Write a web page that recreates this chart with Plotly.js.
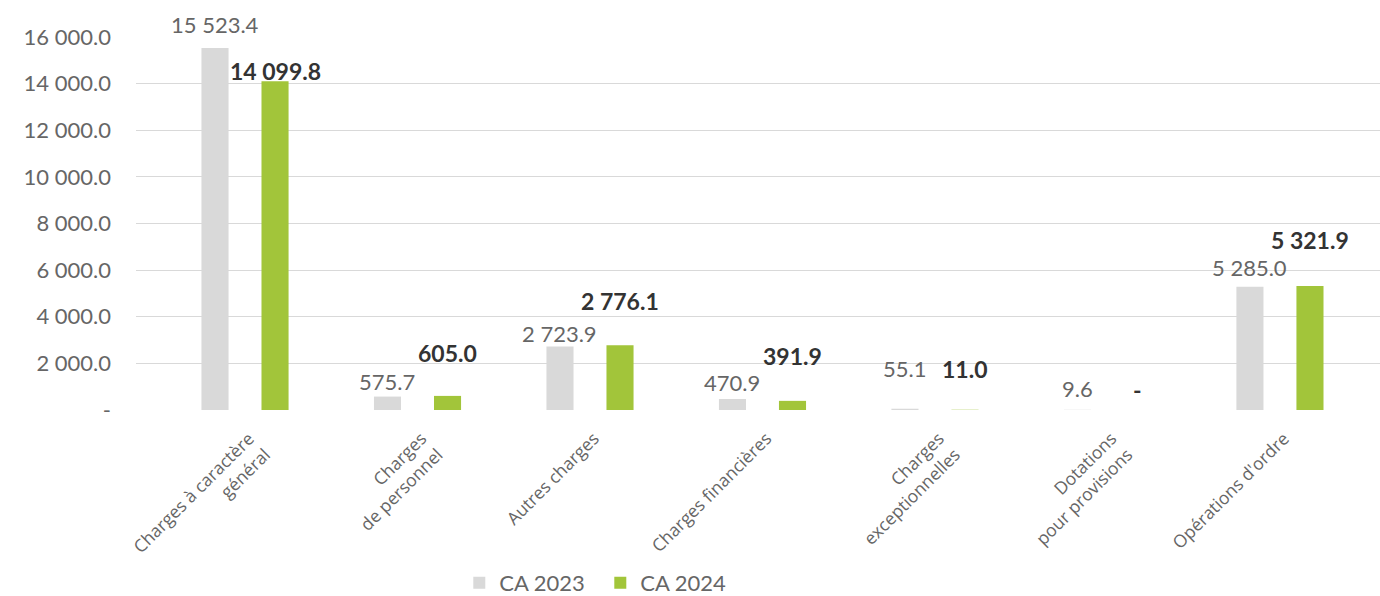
<!DOCTYPE html>
<html>
<head>
<meta charset="utf-8">
<script src="https://cdn.plot.ly/plotly-3.0.1.min.js"></script>
<style>html,body{margin:0;padding:0;background:#fff;}#chart{width:1380px;height:596px;}</style>
</head>
<body>
<div id="chart"></div>
<script>
// ---- data ----
const categories = [
  "Charges à caractère<br>général",
  "Charges<br>de personnel",
  "Autres charges",
  "Charges financières",
  "Charges<br>exceptionnelles",
  "Dotations<br>pour provisions",
  "Opérations d'ordre"
];
const ca2023 = [15523.4, 575.7, 2723.9, 470.9, 55.1, 9.6, 5285.0];
const ca2024 = [14099.8, 605.0, 2776.1, 391.9, 11.0, 0, 5321.9];
const seriesNames = ["CA 2023", "CA 2024"];
const yTickVals = [0, 2000, 4000, 6000, 8000, 10000, 12000, 14000, 16000];
const yTickText = ["-", "2 000.0", "4 000.0", "6 000.0", "8 000.0", "10 000.0", "12 000.0", "14 000.0", "16 000.0"];

// ---- style ----
const grayColor = "#d9d9d9";
const greenColor = "#a2c53a";
const textGray = "#666666";
const textDark = "#333333";
const numFont = "Lato, 'Open Sans', sans-serif";
const catFont = "'Open Sans', 'Noto Sans', sans-serif";
const barW = 0.157, half = 0.174;
// label lift above bar top (px), as in the reference layout
const lift2023 = [24, 15, 13, 17, 40, 21, 19];
const lift2024 = [10, 43, 44, 45, 41, 20, 46];

function fmt(v) {
  if (v === 0) return "-";
  const s = v.toFixed(1);
  const [ip, dp] = s.split(".");
  return ip.replace(/\B(?=(\d{3})+(?!\d))/g, " ") + "." + dp;
}

const traces = [
  {
    type: "bar", name: seriesNames[0], x: categories, y: ca2023,
    width: barW, offset: -half - barW / 2,
    marker: { color: grayColor }, hoverinfo: "skip"
  },
  {
    type: "bar", name: seriesNames[1], x: categories, y: ca2024,
    width: barW, offset: half - barW / 2,
    marker: { color: greenColor }, hoverinfo: "skip"
  }
];

const annotations = [];
ca2023.forEach((v, i) => annotations.push({
  x: i - half, y: v, xref: "x", yref: "y", text: fmt(v), showarrow: false,
  yanchor: "middle", yshift: lift2023[i],
  font: { family: numFont, size: 22, color: textGray }
}));
ca2024.forEach((v, i) => annotations.push({
  x: i + half, y: v, xref: "x", yref: "y", text: "<b>" + fmt(v) + "</b>", showarrow: false,
  yanchor: "middle", yshift: lift2024[i],
  font: { family: numFont, size: 23, color: textDark }
}));

const layout = {
  width: 1380, height: 596,
  margin: { l: 136, r: 0, t: 37, b: 186 },
  paper_bgcolor: "#fff", plot_bgcolor: "#fff",
  barmode: "overlay",
  showlegend: true,
  legend: {
    orientation: "h", xref: "container", yref: "container",
    x: 0.435, xanchor: "center", y: 0.022, yanchor: "middle",
    entrywidth: 96,
    font: { family: numFont, size: 22, color: textGray },
    itemclick: false, itemdoubleclick: false
  },
  xaxis: {
    type: "category", range: [-0.632, 6.58], automargin: false,
    tickangle: -45, showgrid: false, zeroline: false, showline: false, ticks: "",
    ticklabelstandoff: 14, ticklabelshift: 4,
    tickfont: { family: catFont, size: 17.5, color: textGray },
    fixedrange: true
  },
  yaxis: {
    range: [0, 16000], tickvals: yTickVals, ticktext: yTickText, automargin: false,
    showgrid: true, gridcolor: "#d9d9d9", gridwidth: 1,
    zeroline: true, zerolinecolor: "rgba(0,0,0,0)",
    showline: false, ticks: "", ticklabelstandoff: 24,
    tickfont: { family: numFont, size: 22, color: textGray },
    fixedrange: true
  },
  annotations: annotations
};

Plotly.newPlot("chart", traces, layout, { displayModeBar: false, staticPlot: true });
</script>
</body>
</html>
